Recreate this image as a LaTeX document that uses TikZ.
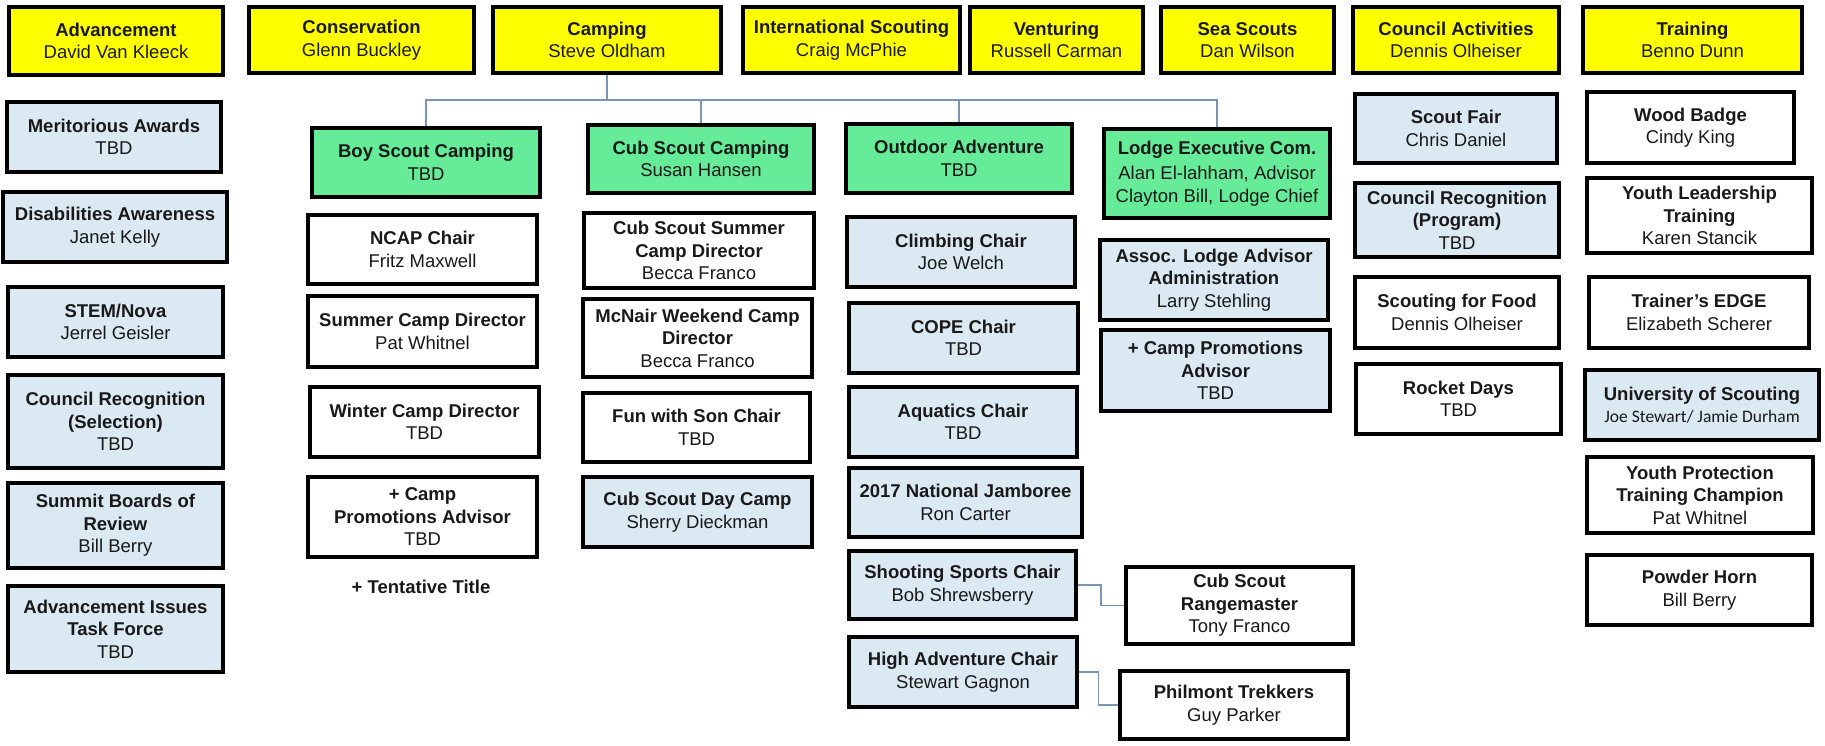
\documentclass[tikz,border=0pt]{standalone}
\usepackage{fontspec}
\setmainfont{Liberation Sans}
\newfontfamily\carlito{Carlito}
\usetikzlibrary{calc}
\definecolor{yellowc}{RGB}{255,255,0}
\definecolor{greenc}{RGB}{102,236,152}
\definecolor{bluec}{RGB}{219,233,242}
\definecolor{connc}{RGB}{120,150,180}
\newcommand{\orgbox}[7]{\node[#6, minimum width={(#4)-(#2)}, minimum height={(#5)-(#3)}] (#1) at ({((#2)+(#4))/2},{((#3)+(#5))/2}) {#7};}
\tikzset{
  base/.style={draw=black, line width=3.5pt, inner sep=0pt, align=center, text=black!90, font=\fontsize{18.5}{22.5}\selectfont},
  yel/.style={base, fill=yellowc},
  grn/.style={base, fill=greenc},
  blu/.style={base, fill=bluec},
  wht/.style={base, fill=white},
  conn/.style={draw=connc, line width=1.5pt}
}
\begin{document}
\begin{tikzpicture}[x=1pt, y=-1pt]
\useasboundingbox (0,0) rectangle (1825,746);
\fill[white] (0,0) rectangle (1825,746);
% connectors
\coordinate (bus) at (607,100);
% top row
\orgbox{adv}{9}{7}{223}{75}{yel}{\textbf{Advancement}\\David Van Kleeck}
\orgbox{cons}{249}{7}{474}{73}{yel}{\textbf{Conservation}\\Glenn Buckley}
\orgbox{camp}{493}{7}{721}{73}{yel}{\textbf{Camping}\\Steve Oldham}
\orgbox{intl}{743}{7}{960}{73}{yel}{\textbf{International Scouting}\\Craig McPhie}
\orgbox{vent}{970}{7}{1143}{73}{yel}{\textbf{Venturing}\\Russell Carman}
\orgbox{sea}{1161}{7}{1334}{73}{yel}{\textbf{Sea Scouts}\\Dan Wilson}
\orgbox{ca}{1353}{7}{1559}{73}{yel}{\textbf{Council Activities}\\Dennis Olheiser}
\orgbox{trn}{1583}{7}{1802}{73}{yel}{\textbf{Training}\\Benno Dunn}
% advancement column
\orgbox{mer}{7}{102}{221}{172}{blu}{\textbf{Meritorious Awards}\\TBD}
\orgbox{dis}{3}{192}{227}{262}{blu}{\textbf{Disabilities Awareness}\\Janet Kelly}
\orgbox{stem}{8}{287}{223}{357}{blu}{\textbf{STEM/Nova}\\Jerrel Geisler}
\orgbox{crs}{8}{375}{223}{468}{blu}{\textbf{Council Recognition}\\\textbf{(Selection)}\\TBD}
\orgbox{sum}{8}{483}{223}{568}{blu}{\textbf{Summit Boards of}\\\textbf{Review}\\Bill Berry}
\orgbox{ait}{8}{586}{223}{672}{blu}{\textbf{Advancement Issues}\\\textbf{Task Force}\\TBD}
% camping green row
\orgbox{bsc}{312}{128}{540}{197}{grn}{\textbf{Boy Scout Camping}\\TBD}
\orgbox{csc}{588}{125}{814}{193}{grn}{\textbf{Cub Scout Camping}\\Susan Hansen}
\orgbox{oa}{846}{124}{1072}{193}{grn}{\textbf{Outdoor Adventure}\\TBD}
\orgbox{lec}{1104}{129}{1330}{218}{grn}{\textbf{Lodge Executive Com.}\\[3pt]Alan El-lahham, Advisor\\Clayton Bill, Lodge Chief}
% boy scout column
\orgbox{ncap}{308}{215}{537}{284}{wht}{\textbf{NCAP Chair}\\Fritz Maxwell}
\orgbox{scd}{308}{296}{537}{367}{wht}{\textbf{Summer Camp Director}\\Pat Whitnel}
\orgbox{wcd}{310}{387}{539}{457}{wht}{\textbf{Winter Camp Director}\\TBD}
\orgbox{cpa}{308}{477}{537}{557}{wht}{\textbf{+ Camp}\\\textbf{Promotions Advisor}\\TBD}
\node[font=\fontsize{18.5}{22.5}\selectfont\bfseries, text=black!90] (tent) at (421,587) {+ Tentative Title};
% cub scout column
\orgbox{cssc}{584}{213}{814}{288}{wht}{\textbf{Cub Scout Summer}\\\textbf{Camp Director}\\Becca Franco}
\orgbox{mcn}{583}{299}{812}{377}{wht}{\textbf{McNair Weekend Camp}\\\textbf{Director}\\Becca Franco}
\orgbox{fws}{583}{393}{810}{462}{wht}{\textbf{Fun with Son Chair}\\TBD}
\orgbox{csdc}{583}{477}{812}{547}{blu}{\textbf{Cub Scout Day Camp}\\Sherry Dieckman}
% outdoor adventure column
\orgbox{clb}{847}{217}{1075}{287}{blu}{\textbf{Climbing Chair}\\Joe Welch}
\orgbox{cope}{849}{303}{1078}{373}{blu}{\textbf{COPE Chair}\\TBD}
\orgbox{aqu}{849}{387}{1077}{457}{blu}{\textbf{Aquatics Chair}\\TBD}
\orgbox{jam}{849}{468}{1082}{537}{blu}{\textbf{2017 National Jamboree}\\Ron Carter}
\orgbox{ssc}{849}{551}{1076}{619}{blu}{\textbf{Shooting Sports Chair}\\Bob Shrewsberry}
\orgbox{hac}{849}{637}{1077}{707}{blu}{\textbf{High Adventure Chair}\\Stewart Gagnon}
\orgbox{rng}{1126}{567}{1353}{644}{wht}{\textbf{Cub Scout}\\\textbf{Rangemaster}\\Tony Franco}
\orgbox{phil}{1120}{671}{1348}{739}{wht}{\textbf{Philmont Trekkers}\\Guy Parker}
% lodge column
\orgbox{ala}{1100}{240}{1328}{320}{blu}{\textbf{Assoc. Lodge Advisor}\\\textbf{Administration}\\Larry Stehling}
\orgbox{lcpa}{1101}{330}{1330}{411}{blu}{\textbf{+ Camp Promotions}\\\textbf{Advisor}\\TBD}
% council activities column
\orgbox{sf}{1355}{94}{1557}{163}{blu}{\textbf{Scout Fair}\\Chris Daniel}
\orgbox{crp}{1355}{183}{1559}{257}{blu}{\textbf{Council Recognition}\\\textbf{(Program)}\\TBD}
\orgbox{sff}{1355}{277}{1559}{348}{wht}{\textbf{Scouting for Food}\\Dennis Olheiser}
\orgbox{rd}{1356}{364}{1561}{434}{wht}{\textbf{Rocket Days}\\TBD}
% training column
\orgbox{wb}{1587}{92}{1794}{163}{wht}{\textbf{Wood Badge}\\Cindy King}
\orgbox{ylt}{1587}{178}{1812}{253}{wht}{\textbf{Youth Leadership}\\\textbf{Training}\\Karen Stancik}
\orgbox{te}{1589}{277}{1809}{348}{wht}{\textbf{Trainer's EDGE}\\Elizabeth Scherer}
\orgbox{uos}{1585}{370}{1819}{440}{blu}{\textbf{University of Scouting}\\{\carlito\fontsize{17.5}{21}\selectfont Joe Stewart/ Jamie Durham}}
\orgbox{ypt}{1587}{457}{1813}{533}{wht}{\textbf{Youth Protection}\\\textbf{Training Champion}\\Pat Whitnel}
\orgbox{ph}{1587}{555}{1812}{625}{wht}{\textbf{Powder Horn}\\Bill Berry}
% connectors
\draw[conn] (camp.south) -- (bus);
\draw[conn] (bsc.north) |- (bus) -| (lec.north);
\draw[conn] (csc.north) -- (csc.north |- bus);
\draw[conn] (oa.north) -- (oa.north |- bus);
\draw[conn] (ssc.east) -| ($(ssc.east)!0.5!(rng.west)$) |- (rng.west);
\draw[conn] (hac.east) -| ($(hac.east)!0.5!(phil.west)$) |- (phil.west);
\end{tikzpicture}
\end{document}
